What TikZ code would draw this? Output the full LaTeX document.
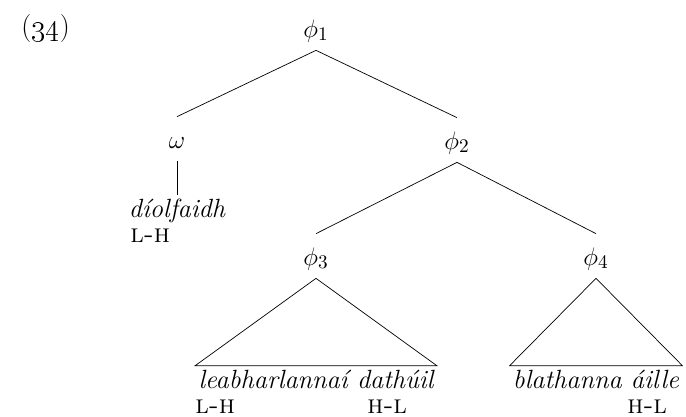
\documentclass[tikz,border=0pt]{standalone}
\usepackage{tikz}
\newcommand{\treesize}{\fontsize{15}{18}\selectfont}
\tikzset
{
    catnode/.style  = {inner sep=0pt, anchor=base, text height=0.62cm, text depth=0.26cm},
    wordnode/.style = {inner xsep=0.06cm, inner ysep=0pt, anchor=base, text height=0.44cm, text depth=0.08cm, font=\treesize\itshape},
    tonenode/.style = {inner sep=0pt, anchor=base west, font=\treesize\scshape}
}

\begin{document}
\begin{tikzpicture}[x=0.02cm, y=-0.02cm, font=\treesize]
    \useasboundingbox (0,0) rectangle (686,416);
    \node [inner sep=0pt, anchor=base west] (ex) at (21,35) {\fontsize{16}{18}\selectfont(\oldstylenums{34})};
    % categories
    \node [catnode] (phi1)  at (316,37)  {$\phi_1$};
    \node [catnode] (omega) at (177,148) {$\omega$};
    \node [catnode] (phi2)  at (457,149) {$\phi_2$};
    \node [catnode] (phi3)  at (316,265) {$\phi_3$};
    \node [catnode] (phi4)  at (596,265) {$\phi_4$};
    % words
    \node [wordnode] (verb)   at (177,217) {díolfaidh};
    \node [wordnode] (leaf3)  at (316,388) {leabharlannaí dathúil};
    \node [wordnode] (leaf4)  at (596,388) {blathanna áille};
    % tones
    \node [tonenode] (tverb)  at (130,242) {l-h};
    \node [tonenode] (tleafa) at (195,413) {l-h};
    \node [tonenode] (tleafb) at (367,413) {h-l};
    \node [tonenode] (tleafc) at (627,413) {h-l};
    % branches
    \draw (phi1.south) -- (omega.north);
    \draw (phi1.south) -- (phi2.north);
    \draw (phi2.south) -- (phi3.north);
    \draw (phi2.south) -- (phi4.north);
    \draw (omega.south) -- (verb.north);
    \draw (phi3.south) -- (leaf3.north west) -- (leaf3.north east) -- cycle;
    \draw (phi4.south) -- (leaf4.north west) -- (leaf4.north east) -- cycle;
\end{tikzpicture}
\end{document}
